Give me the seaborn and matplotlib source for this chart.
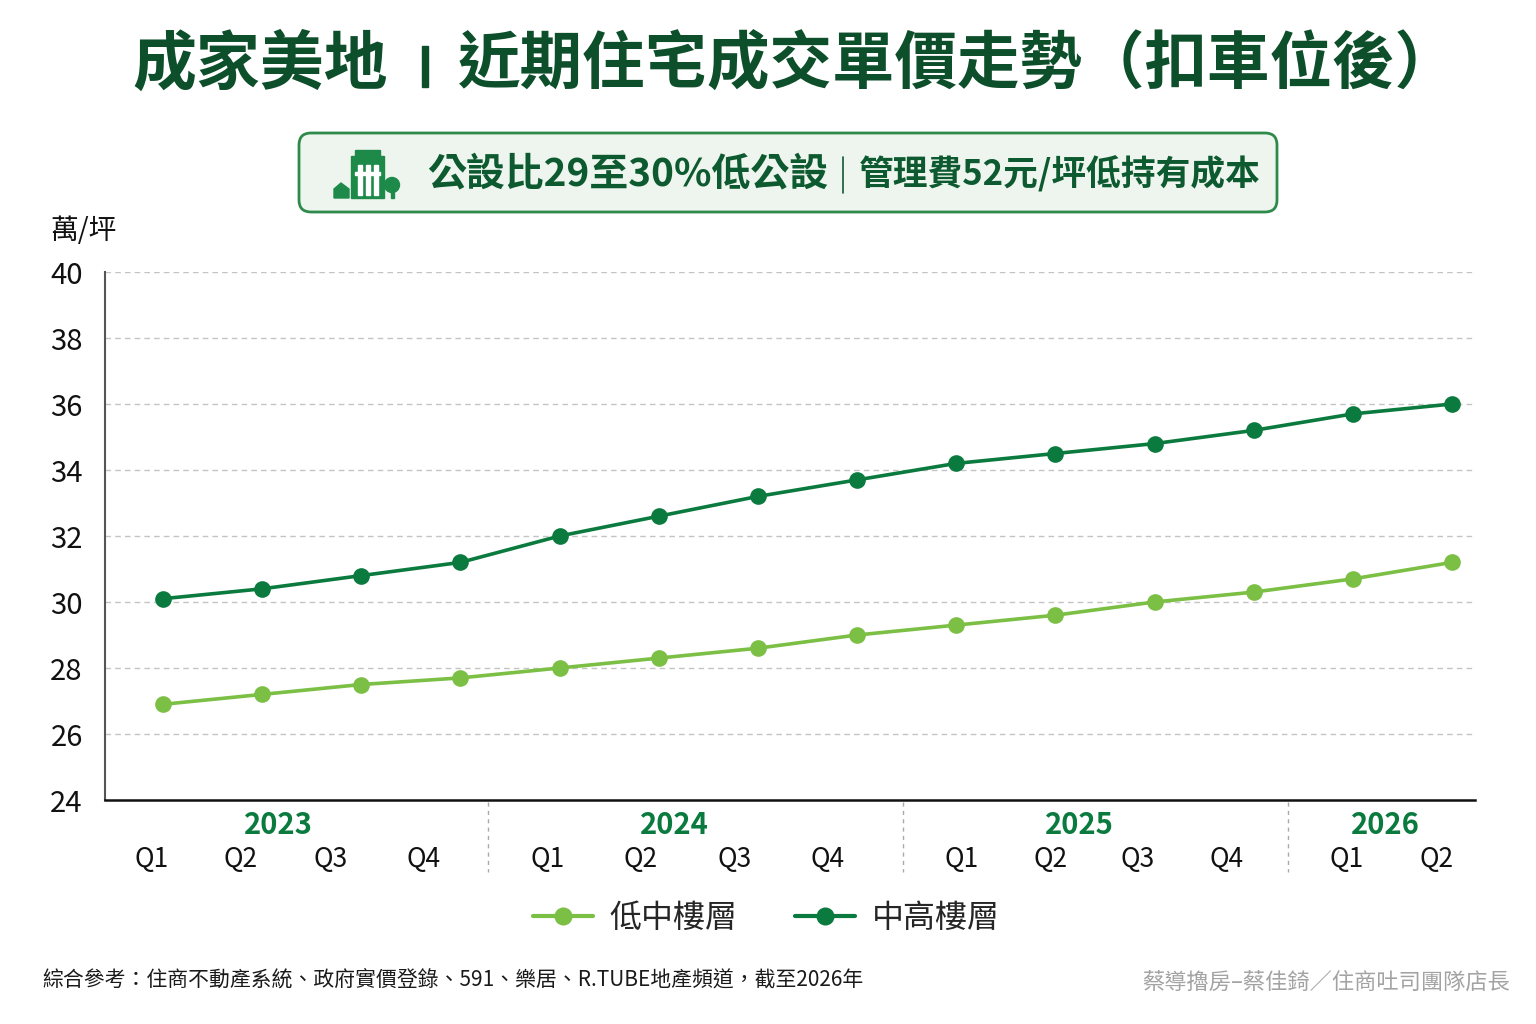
import numpy as np
import pandas as pd
import seaborn as sns
import matplotlib.pyplot as plt
from matplotlib.patches import FancyBboxPatch, Rectangle, Circle, Polygon
from matplotlib.lines import Line2D

# data (萬/坪)
years = ["2023", "2024", "2025", "2026"]
quarters = ["Q1", "Q2", "Q3", "Q4", "Q1", "Q2", "Q3", "Q4",
            "Q1", "Q2", "Q3", "Q4", "Q1", "Q2"]
series_names = ["低中樓層", "中高樓層"]
low_mid = [26.9, 27.2, 27.5, 27.7, 28.0, 28.3, 28.6, 29.0, 29.3, 29.6, 30.0, 30.3, 30.7, 31.2]
mid_high = [30.1, 30.4, 30.8, 31.2, 32.0, 32.6, 33.2, 33.7, 34.2, 34.5, 34.8, 35.2, 35.7, 36.0]

light_green = "#7BBF45"
dark_green = "#0B7A3E"
title_green = "#0D4F2B"

sns.set_style("white")
plt.rcParams['font.family'] = ['Noto Sans CJK TC', 'DejaVu Sans']

n = len(quarters)
df = pd.DataFrame({
    "idx": list(range(n)) * 2,
    "price": low_mid + mid_high,
    "series": [series_names[0]] * n + [series_names[1]] * n,
})

W, H = 1536, 1024
fig = plt.figure(figsize=(W / 100, H / 100), dpi=100)
fig.patch.set_facecolor("white")


def fx(px):
    return px / W


def fy(py):
    return 1 - py / H


# main axes (pixel box 105..1475 x 272..800)
ax = fig.add_axes([fx(105), fy(800), fx(1475) - fx(105), fy(272) - fy(800)])
sns.lineplot(data=df, x="idx", y="price", hue="series",
             palette=[light_green, dark_green], marker="o", markersize=12,
             markeredgewidth=0, linewidth=2.6, legend=False, ax=ax)

step = (1452 - 163) / (n - 1)
ax.set_xlim(-(163 - 105) / step, (n - 1) + (1475 - 1452) / step)
ax.set_ylim(24, 40)
ax.set_yticks(range(24, 41, 2))
ax.tick_params(axis="y", length=0, labelsize=21, pad=16, labelcolor="#111111")
ax.yaxis.grid(True, linestyle=(0, (4, 3)), color="#C4C4C4", linewidth=1)
ax.set_axisbelow(True)
ax.set_xlabel("")
ax.set_ylabel("")
for s in ["top", "right"]:
    ax.spines[s].set_visible(False)
ax.spines["left"].set_color("#555555")
ax.spines["left"].set_linewidth(1.5)
ax.spines["bottom"].set_color("#111111")
ax.spines["bottom"].set_linewidth(1.8)

# quarter tick labels, placed where the reference puts them
q_px = [152, 241, 331, 424, 548, 641, 735, 828, 962, 1051, 1138, 1227, 1347, 1437]
ax.set_xticks([(p - 163) / step for p in q_px])
ax.set_xticklabels(quarters, fontsize=19, color="#111111")
ax.tick_params(axis="x", length=0, pad=33)

# year labels and group separators
year_px = [278, 674, 1079, 1385]
for yr, px in zip(years, year_px):
    fig.text(fx(px), fy(825), yr, ha="center", va="center", fontsize=21,
             fontweight="bold", color=dark_green)
for px in [488, 903, 1288]:
    fig.add_artist(Line2D([fx(px), fx(px)], [fy(802), fy(872)],
                          transform=fig.transFigure, color="#AAAAAA",
                          linewidth=1, linestyle=(0, (3, 3))))

# unit label
fig.text(fx(50), fy(231), "萬/坪", ha="left", va="center", fontsize=20, color="#111111")

# title in two parts with a bar between
fig.text(fx(388), fy(65), "成家美地", ha="right", va="center",
         fontsize=46, fontweight="black", color=title_green)
fig.add_artist(Rectangle((fx(422), fy(87)), fx(6), fy(46) - fy(87),
                         transform=fig.transFigure, color=title_green, zorder=5))
fig.text(fx(458), fy(65), "近期住宅成交單價走勢（扣車位後）", ha="left", va="center",
         fontsize=45, fontweight="black", color=title_green)

# subtitle box
inch = fig.dpi_scale_trans
pad = 0.12
bx0, by0, bw, bh = 299 / 100, (H - 212) / 100, (1277 - 299) / 100, (212 - 133) / 100
fig.add_artist(FancyBboxPatch((bx0 + pad, by0 + pad), bw - 2 * pad, bh - 2 * pad,
                              boxstyle=f"round,pad={pad}", transform=inch,
                              facecolor="#EEF5EF", edgecolor="#2E8A4B", linewidth=2))

# building icon
icon_c = "#1E8A4A"


def ip(px, py):
    return (px / 100, (H - py) / 100)


fig.add_artist(Rectangle(ip(351, 198), 0.33, 0.42, transform=inch, color=icon_c))
fig.add_artist(Rectangle(ip(355, 158), 0.25, 0.08, transform=inch, color=icon_c))
for wx in [358, 366, 374]:
    fig.add_artist(Rectangle(ip(wx, 195), 0.035, 0.30, transform=inch, color="white"))
fig.add_artist(Rectangle(ip(355, 175), 0.25, 0.025, transform=inch, color="white"))
fig.add_artist(Polygon([ip(334, 189), ip(341, 183), ip(349, 189), ip(349, 198), ip(334, 198)],
                       closed=True, transform=inch, color=icon_c))
fig.add_artist(Circle(ip(392, 185), 0.075, transform=inch, color=icon_c))
fig.add_artist(Rectangle(ip(390.5, 198), 0.03, 0.08, transform=inch, color=icon_c))

sub_c = "#0E5A30"
fig.text(fx(828), fy(174), "公設比29至30%低公設", ha="right", va="center",
         fontsize=28, fontweight="bold", color=sub_c)
fig.add_artist(Line2D([fx(843), fx(843)], [fy(157), fy(193)], transform=fig.transFigure,
                      color=sub_c, linewidth=1.2))
fig.text(fx(859), fy(174), "管理費52元/坪低持有成本", ha="left", va="center",
         fontsize=25, fontweight="bold", color=sub_c)

# legend
handles = [Line2D([0], [0], color=light_green, lw=3, marker="o", markersize=13,
                  markeredgewidth=0),
           Line2D([0], [0], color=dark_green, lw=3, marker="o", markersize=13,
                  markeredgewidth=0)]
fig.legend(handles, series_names, loc="center", bbox_to_anchor=(fx(766), fy(918)),
           ncol=2, frameon=False, fontsize=23, handlelength=1.9, columnspacing=1.8,
           handletextpad=0.5)

# footer
fig.text(fx(42), fy(980), "綜合參考：住商不動產系統、政府實價登錄、591、樂居、R.TUBE地產頻道，截至2026年",
         ha="left", va="center", fontsize=15, color="#1A1A1A")
fig.text(fx(1510), fy(982), "蔡導擼房–蔡佳錡／住商吐司團隊店長",
         ha="right", va="center", fontsize=16, color="#A3A3A3")

fig.savefig("out.png", dpi=100, facecolor="white")
plt.close(fig)
